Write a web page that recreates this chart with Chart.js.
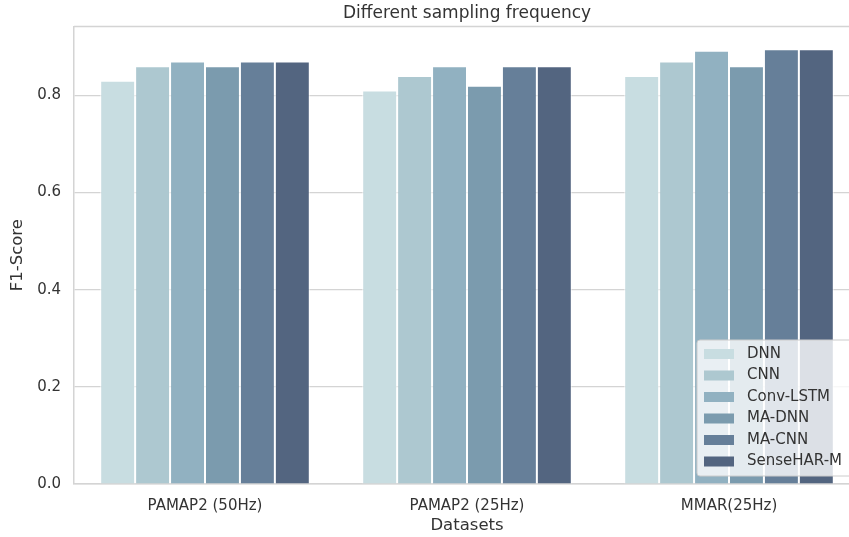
<!DOCTYPE html>
<html>
<head>
<meta charset="utf-8">
<script src="https://cdn.jsdelivr.net/npm/chart.js@4/dist/chart.umd.min.js"></script>
<style>
html, body { margin: 0; padding: 0; overflow: hidden; background: #ffffff; }
#wrap { width: 860px; height: 537px; }
</style>
</head>
<body>
<div id="wrap"><canvas id="c" width="860" height="537"></canvas></div>
<script>
// ---- data ----
const categories = ['PAMAP2 (50Hz)', 'PAMAP2 (25Hz)', 'MMAR(25Hz)'];
const models = ['DNN', 'CNN', 'Conv-LSTM', 'MA-DNN', 'MA-CNN', 'SenseHAR-M'];
const dnn      = [0.83, 0.81, 0.84];
const cnn      = [0.86, 0.84, 0.87];
const convLstm = [0.87, 0.86, 0.892];
const maDnn    = [0.86, 0.82, 0.86];
const maCnn    = [0.87, 0.86, 0.895];
const senseHar = [0.87, 0.86, 0.895];
const yTicks   = [0.0, 0.2, 0.4, 0.6, 0.8];

const seriesValues = [dnn, cnn, convLstm, maDnn, maCnn, senseHar];
const colors = ['#c8dde1', '#adc8d0', '#91b1c1', '#7b9bae', '#667f99', '#536580'];

const FONT = '"DejaVu Sans", "Liberation Sans", sans-serif';
const TEXT = '#333333';
const SPINE = '#d4d4d4';

const datasets = models.map((m, i) => ({
  label: m,
  data: seriesValues[i],
  backgroundColor: colors[i],
  borderColor: 'rgba(255,255,255,0.7)',
  borderWidth: 1,
  categoryPercentage: 0.8,
  barPercentage: 1.0
}));

const frame = {
  id: 'frame',
  afterDatasetsDraw(chart) {
    const {ctx, chartArea} = chart;
    ctx.save();
    // top spine
    ctx.strokeStyle = SPINE;
    ctx.lineWidth = 1.5;
    ctx.beginPath();
    ctx.moveTo(chartArea.left, chartArea.top);
    ctx.lineTo(chartArea.right, chartArea.top);
    ctx.stroke();

    // legend (lower right, inside axes)
    const rowH = 21.5;
    const boxW = 156, boxH = 136;
    const bx = chartArea.right - 7 - boxW;
    const by = chartArea.bottom - 8 - boxH;
    ctx.fillStyle = 'rgba(255,255,255,0.8)';
    ctx.strokeStyle = '#cccccc';
    ctx.lineWidth = 1;
    const r = 3;
    ctx.beginPath();
    ctx.moveTo(bx + r, by);
    ctx.lineTo(bx + boxW - r, by);
    ctx.arcTo(bx + boxW, by, bx + boxW, by + r, r);
    ctx.lineTo(bx + boxW, by + boxH - r);
    ctx.arcTo(bx + boxW, by + boxH, bx + boxW - r, by + boxH, r);
    ctx.lineTo(bx + r, by + boxH);
    ctx.arcTo(bx, by + boxH, bx, by + boxH - r, r);
    ctx.lineTo(bx, by + r);
    ctx.arcTo(bx, by, bx + r, by, r);
    ctx.closePath();
    ctx.fill();
    ctx.stroke();

    ctx.font = '15px ' + FONT;
    ctx.textBaseline = 'middle';
    ctx.textAlign = 'left';
    chart.data.datasets.forEach((ds, i) => {
      const cy = by + 14 + i * rowH;
      ctx.fillStyle = ds.backgroundColor;
      ctx.fillRect(bx + 7, cy - 5, 30, 10);
      ctx.fillStyle = TEXT;
      ctx.fillText(ds.label, bx + 50, cy);
    });
    ctx.restore();
  }
};

new Chart(document.getElementById('c'), {
  type: 'bar',
  data: { labels: categories, datasets },
  options: {
    responsive: false,
    animation: false,
    layout: { padding: 0 },
    plugins: {
      legend: { display: false },
      tooltip: { enabled: false },
      title: {
        display: true,
        fullSize: false,
        text: 'Different sampling frequency',
        color: TEXT,
        font: { family: FONT, size: 17, weight: 'normal' },
        padding: { top: 3, bottom: 3 }
      }
    },
    scales: {
      x: {
        grid: { display: false, drawTicks: false },
        border: { display: true, color: SPINE, width: 1.5 },
        ticks: { color: TEXT, font: { family: FONT, size: 15 }, padding: 13, maxRotation: 0 },
        title: {
          display: true, text: 'Datasets', color: TEXT,
          font: { family: FONT, size: 16.5 }, padding: { top: 0, bottom: 1 }
        },
        afterFit(scale) { scale.height = 53; }
      },
      y: {
        min: 0,
        max: 0.942,
        grid: { color: SPINE, lineWidth: 1.2, drawTicks: false },
        border: { display: true, color: SPINE, width: 1.5 },
        afterBuildTicks(scale) { scale.ticks = yTicks.map(v => ({ value: v })); },
        ticks: {
          color: TEXT, font: { family: FONT, size: 15 }, padding: 13,
          callback: v => Number(v).toFixed(1)
        },
        title: {
          display: true, text: 'F1-Score', color: TEXT,
          font: { family: FONT, size: 16.5 }, padding: { top: 8, bottom: 0 }
        },
        afterFit(scale) { scale.width = 74; }
      }
    }
  },
  plugins: [frame]
});
</script>
</body>
</html>
